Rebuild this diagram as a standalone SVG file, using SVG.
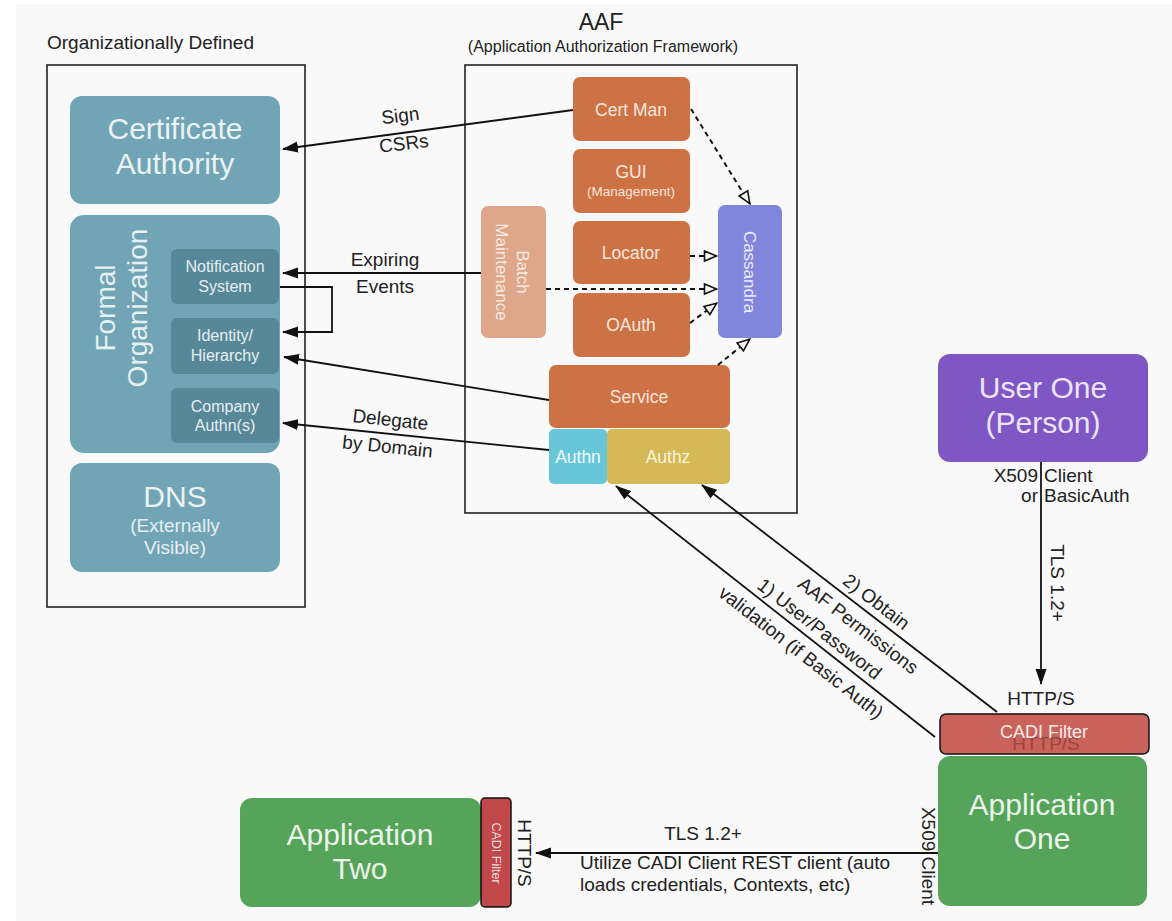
<svg xmlns="http://www.w3.org/2000/svg" width="1172" height="921" viewBox="0 0 1172 921">
<style>
text{font-family:"Liberation Sans",Arial,sans-serif}
.lbl{font-size:19px;fill:#222}
.big{font-size:30px;fill:#eaf2f4}
.teal{fill:#71a5b6}
.dteal{fill:#568898}
.sub{font-size:16px;fill:#e6eff2}
.org{fill:#cd7245}
.otx{font-size:17.5px;fill:#f7e6dc}
.frame{fill:none;stroke:#222;stroke-width:1.6}
.conn{fill:none;stroke:#111;stroke-width:1.8}
.dash{fill:none;stroke:#111;stroke-width:2;stroke-dasharray:5,4}
</style>
<defs>
<marker id="ah" markerWidth="16" markerHeight="12" refX="15" refY="6" orient="auto" markerUnits="userSpaceOnUse"><path d="M0,0.5 L16,6 L0,11.5 Z" fill="#111"/></marker>
<marker id="oh" markerWidth="15" markerHeight="13" refX="14" refY="6.5" orient="auto" markerUnits="userSpaceOnUse"><path d="M1.5,1.5 L13.5,6.5 L1.5,11.5 Z" fill="#f9f9f9" stroke="#111" stroke-width="1.6"/></marker>
</defs>
<rect width="1172" height="921" fill="#ffffff"/>
<rect x="16" y="4" width="1156" height="917" fill="#f9f9f9"/>

<g id="org-defined">
<text x="47" y="49" class="lbl">Organizationally Defined</text>
<rect x="47" y="65" width="258" height="542" class="frame"/>
</g>
<g id="cert-authority">
<rect x="70" y="96" width="210" height="108" rx="12" class="teal"/>
<text x="175" y="139" class="big" text-anchor="middle">Certificate</text>
<text x="175" y="174" class="big" text-anchor="middle">Authority</text>
</g>
<g id="formal-org">
<rect x="70" y="215" width="210" height="238" rx="14" class="teal"/>
<text transform="translate(121,308) rotate(-90)" text-anchor="middle" style="font-size:28px;fill:#e6eff2"><tspan x="0" y="-6">Formal</tspan><tspan x="0" y="26">Organization</tspan></text>
</g>
<g id="notification">
<rect x="171" y="249" width="108" height="55" rx="6" class="dteal"/>
<text x="225" y="272" class="sub" text-anchor="middle">Notification</text>
<text x="225" y="292" class="sub" text-anchor="middle">System</text>
</g>
<g id="identity">
<rect x="171" y="318" width="108" height="56" rx="6" class="dteal"/>
<text x="225" y="341" class="sub" text-anchor="middle">Identity/</text>
<text x="225" y="361" class="sub" text-anchor="middle">Hierarchy</text>
</g>
<g id="company-authn">
<rect x="171" y="388" width="108" height="55" rx="6" class="dteal"/>
<text x="225" y="412" class="sub" text-anchor="middle">Company</text>
<text x="225" y="431" class="sub" text-anchor="middle">Authn(s)</text>
</g>
<g id="dns">
<rect x="70" y="463" width="210" height="109" rx="12" class="teal"/>
<text x="175" y="507" class="big" text-anchor="middle">DNS</text>
<text x="175" y="532" text-anchor="middle" style="font-size:19px;fill:#e6eff2">(Externally</text>
<text x="175" y="554" text-anchor="middle" style="font-size:19px;fill:#e6eff2">Visible)</text>
</g>

<g id="aaf">
<text x="601" y="30" text-anchor="middle" style="font-size:23px;fill:#222">AAF</text>
<text x="603" y="52" text-anchor="middle" style="font-size:16px;fill:#222">(Application Authorization Framework)</text>
<rect x="465" y="65" width="332" height="448" class="frame"/>
</g>
<g id="cert-man">
<rect x="573" y="77" width="117" height="64" rx="7" class="org"/>
<text x="631" y="116" class="otx" text-anchor="middle">Cert Man</text>
</g>
<g id="gui">
<rect x="573" y="149" width="117" height="64" rx="7" class="org"/>
<text x="631" y="178" class="otx" text-anchor="middle">GUI</text>
<text x="631" y="196" text-anchor="middle" style="font-size:13.5px;fill:#f7e6dc">(Management)</text>
</g>
<g id="locator">
<rect x="573" y="221" width="117" height="63" rx="7" class="org"/>
<text x="631" y="259" class="otx" text-anchor="middle">Locator</text>
</g>
<g id="oauth">
<rect x="573" y="293" width="117" height="64" rx="7" class="org"/>
<text x="631" y="331" class="otx" text-anchor="middle">OAuth</text>
</g>
<g id="batch">
<rect x="481" y="206" width="65" height="132" rx="7" fill="#dea78a"/>
<text transform="translate(513,272) rotate(90)" text-anchor="middle" style="font-size:17px;fill:#f7e9e0"><tspan x="0" y="-4">Batch</tspan><tspan x="0" y="17">Maintenance</tspan></text>
</g>
<g id="cassandra">
<rect x="718" y="205" width="64" height="133" rx="7" fill="#7f86dc"/>
<text transform="translate(750,272) rotate(90)" text-anchor="middle" y="6" style="font-size:17px;fill:#ecedfb">Cassandra</text>
</g>
<g id="service">
<rect x="549" y="365" width="181" height="63" rx="7" class="org"/>
<text x="639" y="403" class="otx" text-anchor="middle">Service</text>
</g>
<g id="authn">
<rect x="549" y="429" width="58" height="55" rx="5" fill="#67c6d7"/>
<text x="578" y="463" class="otx" text-anchor="middle" style="fill:#f2fbfd">Authn</text>
</g>
<g id="authz">
<rect x="607" y="429" width="123" height="55" rx="5" fill="#d4b956"/>
<text x="668" y="463" class="otx" text-anchor="middle" style="fill:#f8f3df">Authz</text>
</g>

<g id="user-one">
<rect x="938" y="354" width="210" height="108" rx="12" fill="#7e57c5"/>
<text x="1043" y="398" text-anchor="middle" style="font-size:30px;fill:#ece4f8">User One</text>
<text x="1043" y="433" text-anchor="middle" style="font-size:30px;fill:#ece4f8">(Person)</text>
</g>
<g id="cadi-filter-one">
<rect x="940" y="714" width="209" height="40" rx="6" fill="#c9625b" stroke="#111" stroke-width="1.5"/>
<text x="1046" y="750" text-anchor="middle" style="font-size:19px;fill:#9c4540">HTTP/S</text>
<text x="1044" y="738" text-anchor="middle" style="font-size:18px;fill:#f8ecea">CADI Filter</text>
</g>
<g id="app-one">
<rect x="938" y="756" width="209" height="150" rx="12" fill="#55a459"/>
<text x="1042" y="815" text-anchor="middle" style="font-size:30px;fill:#eaf4ea">Application</text>
<text x="1042" y="849" text-anchor="middle" style="font-size:30px;fill:#eaf4ea">One</text>
</g>
<g id="app-two">
<rect x="240" y="798" width="241" height="109" rx="12" fill="#55a459"/>
<text x="360" y="845" text-anchor="middle" style="font-size:30px;fill:#eaf4ea">Application</text>
<text x="360" y="879" text-anchor="middle" style="font-size:30px;fill:#eaf4ea">Two</text>
</g>
<g id="cadi-filter-two">
<rect x="481" y="798" width="30" height="109" rx="4" fill="#c0474a" stroke="#111" stroke-width="1.5"/>
<text transform="translate(496,853) rotate(90)" text-anchor="middle" y="4.5" style="font-size:12.5px;fill:#f5dede">CADI Filter</text>
</g>

<g id="connectors">
<path d="M573,110 L283,149" class="conn" marker-end="url(#ah)"/>
<path d="M481,273 L283,273" class="conn" marker-end="url(#ah)"/>
<path d="M280,287 H332 V332 H283" class="conn" marker-end="url(#ah)"/>
<path d="M549,400 L284,357" class="conn" marker-end="url(#ah)"/>
<path d="M549,450 L283,423" class="conn" marker-end="url(#ah)"/>
<path d="M691,109 L750,204" class="dash" marker-end="url(#oh)"/>
<path d="M690,256 L717,256" class="dash" marker-end="url(#oh)"/>
<path d="M546,289 L717,289" class="dash" marker-end="url(#oh)"/>
<path d="M690,323 L717,303" class="dash" marker-end="url(#oh)"/>
<path d="M718,365 L750,339" class="dash" marker-end="url(#oh)"/>
<path d="M935,737 L616,486" class="conn" marker-end="url(#ah)"/>
<path d="M997,712 L702,485" class="conn" marker-end="url(#ah)"/>
<path d="M1041,462 L1041,684" class="conn" marker-end="url(#ah)"/>
<path d="M938,853 L536,853" class="conn" marker-end="url(#ah)"/>

<text transform="translate(402,129) rotate(-7)" text-anchor="middle" class="lbl"><tspan x="0" y="-7">Sign</tspan><tspan x="0" y="21">CSRs</tspan></text>
<text x="385" y="266" text-anchor="middle" class="lbl">Expiring</text>
<text x="385" y="293" text-anchor="middle" class="lbl">Events</text>
<text transform="translate(389,433) rotate(6)" text-anchor="middle" class="lbl"><tspan x="0" y="-7">Delegate</tspan><tspan x="0" y="20">by Domain</tspan></text>
<text transform="translate(867,614) rotate(37.6)" text-anchor="middle" class="lbl"><tspan x="0" y="-9">2) Obtain</tspan><tspan x="0" y="21">AAF Permissions</tspan></text>
<text transform="translate(810,641) rotate(38)" text-anchor="middle" class="lbl"><tspan x="0" y="-9">1) User/Password</tspan><tspan x="0" y="21">validation (if Basic Auth)</tspan></text>
<text y="482" class="lbl"><tspan x="1038" text-anchor="end">X509</tspan><tspan x="1044">Client</tspan></text>
<text y="502" class="lbl"><tspan x="1038" text-anchor="end">or</tspan><tspan x="1044">BasicAuth</tspan></text>
<text transform="translate(1057,583) rotate(90)" text-anchor="middle" y="6.5" class="lbl">TLS 1.2+</text>
<text x="1041" y="705" text-anchor="middle" class="lbl">HTTP/S</text>
<text transform="translate(928,856) rotate(90)" text-anchor="middle" y="6.5" class="lbl">X509 Client</text>
<text transform="translate(524,853) rotate(90)" text-anchor="middle" y="6.5" class="lbl">HTTP/S</text>
<text x="703" y="840" text-anchor="middle" class="lbl">TLS 1.2+</text>
<text x="580" y="869" class="lbl">Utilize CADI Client REST client (auto</text>
<text x="580" y="891" class="lbl">loads credentials, Contexts, etc)</text>
</g>
</svg>
